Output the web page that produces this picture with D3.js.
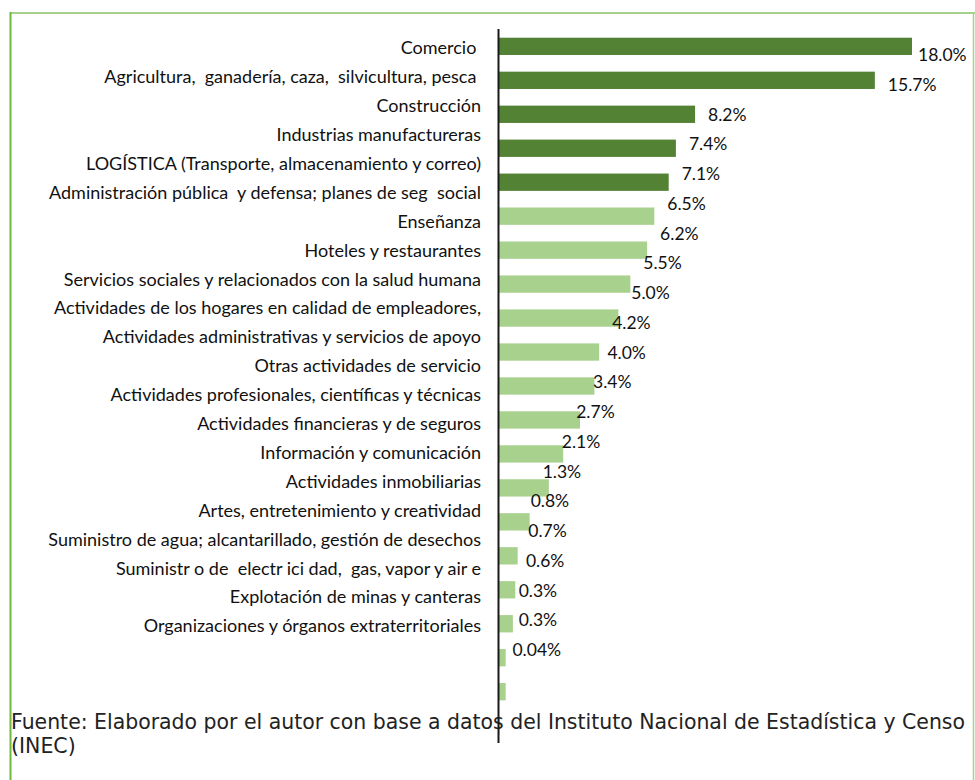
<!DOCTYPE html>
<html>
<head>
<meta charset="utf-8">
<script src="https://cdn.jsdelivr.net/npm/d3@7"></script>
<style>
  body { margin: 0; background: #fff; }
  svg text { white-space: pre; }
</style>
</head>
<body>
<script>
let width = 975;
let height = 780;

let sectores = [
  "Comercio ",
  "Agricultura,  ganadería, caza,  silvicultura, pesca ",
  "Construcción",
  "Industrias manufactureras",
  "LOGÍSTICA (Transporte, almacenamiento y correo)",
  "Administración pública  y defensa; planes de seg  social",
  "Enseñanza",
  "Hoteles y restaurantes",
  "Servicios sociales y relacionados con la salud humana",
  "Actividades de los hogares en calidad de empleadores,",
  "Actividades administrativas y servicios de apoyo",
  "Otras actividades de servicio",
  "Actividades profesionales, científicas y técnicas",
  "Actividades financieras y de seguros",
  "Información y comunicación",
  "Actividades inmobiliarias",
  "Artes, entretenimiento y creatividad",
  "Suministro de agua; alcantarillado, gestión de desechos",
  "Suministr o de  electr ici dad,  gas, vapor y air e",
  "Explotación de minas y canteras",
  "Organizaciones y órganos extraterritoriales"
];
let porcentajes = [18.0, 15.7, 8.2, 7.4, 7.1, 6.5, 6.2, 5.5, 5.0, 4.2, 4.0, 3.4, 2.7, 2.1, 1.3, 0.8, 0.7, 0.6, 0.3, 0.3, 0.04];
let etiquetas = ["18.0%", "15.7%", "8.2%", "7.4%", "7.1%", "6.5%", "6.2%", "5.5%", "5.0%", "4.2%", "4.0%", "3.4%", "2.7%", "2.1%", "1.3%", "0.8%", "0.7%", "0.6%", "0.3%", "0.3%", "0.04%"];
let destacados = 5;
let fuente = ["Fuente: Elaborado por el autor con base a datos del Instituto Nacional de Estadística y Censo", "(INEC)"];

let data = sectores.map((s, i) => ({sector: s, valor: porcentajes[i], etiqueta: etiquetas[i], i: i}));

let svg = d3.select("body").append("svg").attr("width", width).attr("height", height);

// marco
svg.append("line").attr("x1", 10).attr("x2", 975).attr("y1", 13).attr("y2", 13)
    .attr("stroke", "#a9d18e").attr("stroke-width", 2);
svg.append("line").attr("x1", 10.5).attr("x2", 10.5).attr("y1", 12).attr("y2", 780)
    .attr("stroke", "#70b83f").attr("stroke-width", 2);
svg.append("line").attr("x1", 973.5).attr("x2", 973.5).attr("y1", 12).attr("y2", 780)
    .attr("stroke", "#a9d18e").attr("stroke-width", 1.5);

// el eje llega a 17.25, la barra de Comercio queda recortada
let x = d3.scaleLinear().domain([0, 17.25]).range([498.5, 912]).clamp(true);
let xLibre = d3.scaleLinear().domain([0, 17.25]).range([498.5, 912]);

let y = d3.scaleBand().domain(sectores).range([29, 743]).paddingInner(0.49).paddingOuter(0.256);
let yNombres = d3.scalePoint().domain(sectores).range([48, 626]);
let yValores = d3.scalePoint().domain(sectores).range([55, 650]);

svg.append("g").selectAll("rect").data(data).join("rect")
    .attr("x", x(0))
    .attr("y", d => y(d.sector))
    .attr("width", d => x(d.valor) - x(0))
    .attr("height", y.bandwidth())
    .attr("fill", d => d.i < destacados ? "#548235" : "#a9d18e");

svg.append("g").selectAll("text").data(data).join("text")
    .attr("x", 481)
    .attr("y", d => yNombres(d.sector))
    .attr("dy", "0.35em")
    .attr("text-anchor", "end")
    .attr("font-family", "Lato, 'Open Sans', sans-serif")
    .attr("font-size", 18)
    .attr("fill", "#111")
    .text(d => d.sector);

svg.append("g").selectAll("text").data(data).join("text")
    .attr("x", d => Math.min(xLibre(d.valor) + 13, 918))
    .attr("y", d => yValores(d.sector))
    .attr("dy", "0.35em")
    .attr("font-family", "Lato, 'Open Sans', sans-serif")
    .attr("font-size", 17.5)
    .attr("fill", "#111")
    .text(d => d.etiqueta);

let pie = svg.append("text")
    .attr("font-family", "'DejaVu Sans', sans-serif")
    .attr("font-size", 20.5)
    .attr("fill", "#222");
pie.append("tspan").attr("x", 11).attr("y", 729).attr("textLength", 954).attr("lengthAdjust", "spacingAndGlyphs").text(fuente[0]);
pie.append("tspan").attr("x", 11).attr("y", 753).text(fuente[1]);

// eje vertical
svg.append("line").attr("x1", 498.5).attr("x2", 498.5).attr("y1", 29).attr("y2", 743)
    .attr("stroke", "#1a1a1a").attr("stroke-width", 2);
</script>
</body>
</html>
